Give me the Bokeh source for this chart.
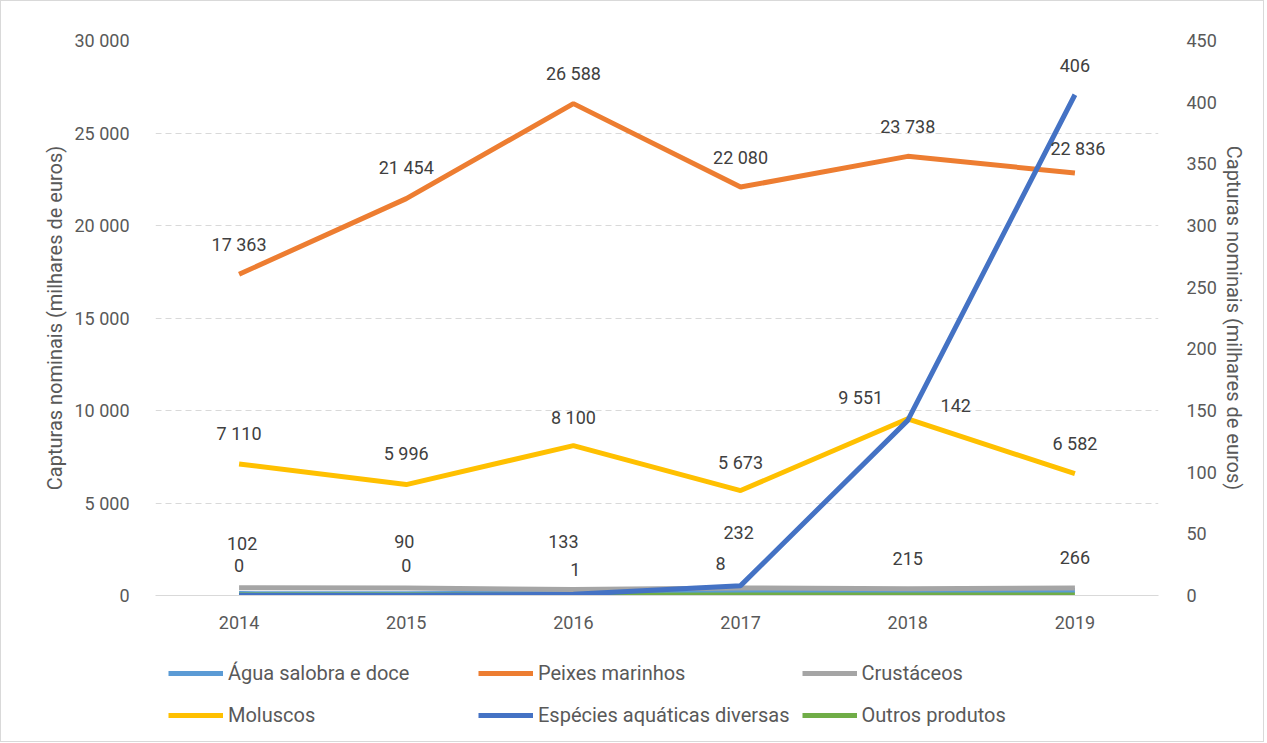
from bokeh.plotting import figure
from bokeh.layouts import column
from bokeh.models import (Range1d, LinearAxis, ColumnDataSource, LabelSet, Legend, LegendItem,
                          CustomJSTickFormatter, FactorRange, SingleIntervalTicker)
from bokeh.embed import file_html
from bokeh.resources import INLINE
from bokeh.core.properties import value

years = ["2014", "2015", "2016", "2017", "2018", "2019"]
agua_salobra = [102, 90, 133, 232, 215, 266]
peixes_marinhos = [17363, 21454, 26588, 22080, 23738, 22836]
crustaceos = [420, 400, 330, 410, 370, 400]
moluscos = [7110, 5996, 8100, 5673, 9551, 6582]
especies_diversas = [0, 0, 1, 8, 142, 406]
outros_produtos = [30, 25, 20, 30, 25, 30]

series_names = ["Água salobra e doce", "Peixes marinhos", "Crustáceos",
                "Moluscos", "Espécies aquáticas diversas", "Outros produtos"]
colors = ["#5B9BD5", "#ED7D31", "#A5A5A5", "#FFC000", "#4472C4", "#70AD47"]

FONT = "Roboto"
TICK_C = "#595959"
LAB_C = "#404040"
NUM_SIZE = "18px"
TXT_SIZE = "20px"
W = 1262

def fmt(v):
    return f"{v:,}".replace(",", " ")

p = figure(width=W, height=650, x_range=FactorRange(*years), y_range=Range1d(0, 30000),
           output_backend="svg", toolbar_location=None,
           min_border_left=154, min_border_right=105, min_border_top=39, min_border_bottom=56)
p.extra_y_ranges = {"right": Range1d(0, 450)}
p.outline_line_color = None
p.background_fill_color = "white"
p.border_fill_color = "white"

p.xgrid.grid_line_color = None
p.ygrid.grid_line_color = "#d9d9d9"
p.ygrid.grid_line_dash = "6 4"
p.ygrid.ticker = SingleIntervalTicker(interval=5000)

tickfmt = CustomJSTickFormatter(code="return tick.toString().replace(/\\B(?=(\\d{3})+(?!\\d))/g, ' ');")

def style_y(ax, standoff, title_standoff):
    ax.axis_line_color = None
    ax.major_tick_line_color = None
    ax.minor_tick_line_color = None
    ax.major_label_standoff = standoff
    ax.major_label_text_font = FONT
    ax.major_label_text_font_size = NUM_SIZE
    ax.major_label_text_color = TICK_C
    ax.axis_label = "Capturas nominais (milhares de euros)"
    ax.axis_label_text_font = FONT
    ax.axis_label_text_font_size = TXT_SIZE
    ax.axis_label_text_font_style = "normal"
    ax.axis_label_text_color = TICK_C
    ax.axis_label_standoff = title_standoff

yl = p.yaxis[0]
yl.ticker = SingleIntervalTicker(interval=5000)
yl.formatter = tickfmt
style_y(yl, 20, 4)

yr = LinearAxis(y_range_name="right", ticker=SingleIntervalTicker(interval=50))
style_y(yr, 22, 2)
p.add_layout(yr, "right")

xa = p.xaxis[0]
xa.axis_line_color = "#d9d9d9"
xa.axis_line_width = 1
xa.major_tick_line_color = None
xa.minor_tick_line_color = None
xa.major_label_standoff = 14
xa.major_label_text_font = FONT
xa.major_label_text_font_size = NUM_SIZE
xa.major_label_text_color = TICK_C

LW = 5
p.line(years, agua_salobra, color=colors[0], line_width=LW)
p.line(years, peixes_marinhos, color=colors[1], line_width=LW)
p.line(years, crustaceos, color=colors[2], line_width=LW)
p.line(years, outros_produtos, color=colors[5], line_width=LW)
p.line(years, moluscos, color=colors[3], line_width=LW)
p.line(years, especies_diversas, color=colors[4], line_width=LW, y_range_name="right")

def add_labels(vals, dx, dy, rng="default"):
    src = ColumnDataSource(dict(x=years, y=vals, t=[fmt(v) for v in vals], dx=dx, dy=dy))
    ls = LabelSet(x="x", y="y", text="t", source=src, x_offset="dx", y_offset="dy",
                  text_align="center", text_baseline="middle", text_font=value(FONT),
                  text_font_size=NUM_SIZE, text_color=LAB_C, y_range_name=rng)
    p.add_layout(ls)

add_labels(peixes_marinhos, [0, 0, 0, 0, 0, 3], [30, 31, 30, 30, 30, 25])
add_labels(moluscos, [0, 0, 0, 0, -47, 0], [30, 31, 28, 28, 21, 30])
add_labels(especies_diversas, [0, 0, 2, -20, 48, 0], [30, 30, 25, 22, 15, 29], "right")
add_labels(agua_salobra, [3, -2, -10, -2, 0, 0], [50, 52, 52, 59, 33, 33])

# legend strip (its frame is aligned with the main plot's frame by the column layout)
leg = figure(width=W, height=90, x_range=Range1d(0, 1), y_range=Range1d(0, 1),
             output_backend="svg", toolbar_location=None,
             min_border_left=154, min_border_right=105, min_border_top=0, min_border_bottom=0)
leg.axis.visible = False
leg.grid.visible = False
leg.outline_line_color = None
leg.border_fill_color = "white"
dummies = [leg.line(x=[5, 6], y=[5, 6], color=c, line_width=LW) for c in colors]
order = [0, 3, 1, 4, 2, 5]  # column-major fill -> rows of three
legend = Legend(items=[LegendItem(label=series_names[i], renderers=[dummies[i]]) for i in order],
                ncols=3, location=(13, 11))
legend.border_line_color = None
legend.background_fill_alpha = 0
legend.padding = 0
legend.margin = 0
legend.glyph_width = 55
legend.glyph_height = 30
legend.label_height = 30
legend.label_standoff = 5
legend.label_width = 238
legend.spacing = 12
legend.label_text_font = FONT
legend.label_text_font_size = TXT_SIZE
legend.label_text_color = TICK_C
leg.add_layout(legend, "center")

lay = column(p, leg, spacing=0)
lay.styles = {"border": "1px solid #d9d9d9"}
open("out.html", "w").write(file_html(lay, INLINE))
